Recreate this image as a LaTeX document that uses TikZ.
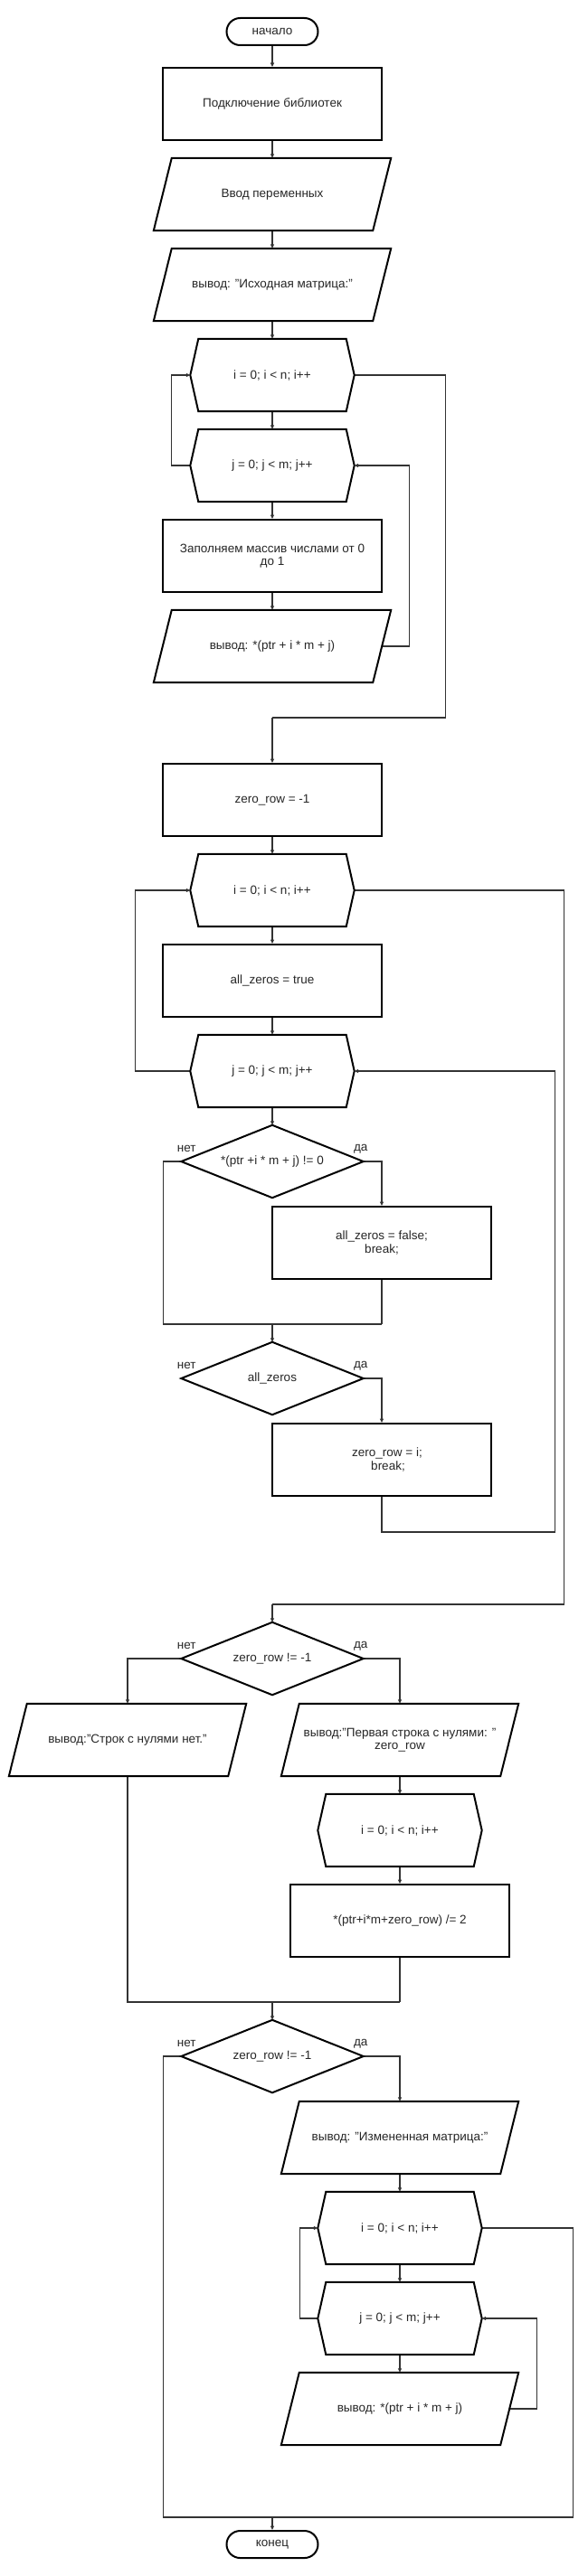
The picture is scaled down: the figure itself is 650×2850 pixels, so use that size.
\documentclass[tikz,border=0pt]{standalone}
\usepackage{fontspec}
\setmainfont{Liberation Sans}
\usetikzlibrary{arrows.meta,calc}

\tikzset{
  every node/.style={font=\fontsize{13.5pt}{14.5pt}\selectfont, text=black!85, inner sep=0pt, align=center},
  blk/.style={rectangle, draw=black, line width=2pt, minimum width=242pt, minimum height=80pt},
  ioshape/.style={rectangle, minimum width=242pt, minimum height=80pt},
  hexa/.style={rectangle, minimum width=181pt, minimum height=80pt},
  dia/.style={rectangle, minimum width=201pt, minimum height=80pt},
  term/.style={rectangle, rounded corners=15pt, draw=black, line width=2pt, minimum width=101pt, minimum height=30pt},
  outl/.style={draw=black, line width=2pt, line join=miter},
  conn/.style={draw=black!80, line width=1.3pt, -{Triangle[length=4.5pt,width=4pt]}},
  plain/.style={draw=black!80, line width=1.3pt},
}

\newcommand\paraout[1]{\draw[outl] ($(#1.north west)+(10,0)$) -- ($(#1.north east)+(10,0)$) -- ($(#1.south east)+(-10,0)$) -- ($(#1.south west)+(-10,0)$) -- cycle;}
\newcommand\hexout[1]{\draw[outl] (#1.west) -- ($(#1.north west)+(9,0)$) -- ($(#1.north east)+(-9,0)$) -- (#1.east) -- ($(#1.south east)+(-9,0)$) -- ($(#1.south west)+(9,0)$) -- cycle;}
\newcommand\diaout[1]{\draw[outl] (#1.west) -- (#1.north) -- (#1.east) -- (#1.south) -- cycle;}

\begin{document}
\begin{tikzpicture}[x=1pt, y=-1pt]
\useasboundingbox (0,0) rectangle (650,2850);

% ---------- first part ----------
\node[term] (start) at (301,35) {начало};
\node[blk] (lib) at (301,115) {Подключение библиотек};
\node[ioshape] (vars) at (301,215) {Ввод переменных};
\node[ioshape] (out1) at (301,315) {вывод: "Исходная матрица:"};
\node[hexa] (fori1) at (301,415) {i = 0; i < n; i++};
\node[hexa] (forj1) at (301,515) {j = 0; j < m; j++};
\node[blk] (fill) at (301,615) {Заполняем массив числами от 0\\до 1};
\node[ioshape] (outp1) at (301,715) {вывод: *(ptr + i * m + j)};

% ---------- second part ----------
\node[blk] (zr) at (301,885) {zero\_row = -1};
\node[hexa] (fori2) at (301,985) {i = 0; i < n; i++};
\node[blk] (allz) at (301,1085) {all\_zeros = true};
\node[hexa] (forj2) at (301,1185) {j = 0; j < m; j++};
\node[dia] (d1) at (301,1285) {*(ptr +i * m + j) != 0};
\node[blk] (azf) at (422,1375) {all\_zeros = false;\\break;};
\node[dia] (d2) at (301,1525) {all\_zeros};
\node[blk] (zri) at (422,1615) {\hspace*{12pt}zero\_row = i;\\\hspace*{14pt}break;};

% ---------- third part ----------
\node[dia] (d3) at (301,1835) {zero\_row != -1};
\node[ioshape] (nozero) at (141,1925) {вывод:"Строк с нулями нет."};
\node[ioshape] (first) at (442,1925) {вывод:"Первая строка с нулями: "\\zero\_row};
\node[hexa] (fori3) at (442,2025) {i = 0; i < n; i++};
\node[blk] (div) at (442,2125) {*(ptr+i*m+zero\_row) /= 2};

% ---------- fourth part ----------
\node[dia] (d4) at (301,2275) {zero\_row != -1};
\node[ioshape] (out2) at (442,2365) {вывод: "Измененная матрица:"};
\node[hexa] (fori4) at (442,2465) {i = 0; i < n; i++};
\node[hexa] (forj4) at (442,2565) {j = 0; j < m; j++};
\node[ioshape] (outp4) at (442,2665) {вывод: *(ptr + i * m + j)};
\node[term] (end) at (301,2815) {конец};

% labels
\node (n1) at ($(d1.west)+(6,-14)$) {нет};
\node (y1) at ($(d1.east)+(-3,-14)$) {да};
\node (n2) at ($(d2.west)+(6,-14)$) {нет};
\node (y2) at ($(d2.east)+(-3,-14)$) {да};
\node (n3) at ($(d3.west)+(6,-14)$) {нет};
\node (y3) at ($(d3.east)+(-3,-14)$) {да};
\node (n4) at ($(d4.west)+(6,-14)$) {нет};
\node (y4) at ($(d4.east)+(-3,-14)$) {да};

% coordinates for merges
\coordinate (m1) at (301,794);
\coordinate (m2) at (301,1465);
\coordinate (m3) at (301,1775);
\coordinate (m4) at (301,2215);
\coordinate (m5) at (301,2785);

% ---------- connectors ----------
\draw[conn] (start) -- (lib);
\draw[conn] (lib) -- (vars);
\draw[conn] (vars) -- (out1);
\draw[conn] (out1) -- (fori1);
\draw[conn] (fori1) -- (forj1);
\draw[conn] (forj1) -- (fill);
\draw[conn] (fill) -- (outp1);
\draw[conn] (outp1.east) -- ++(30,0) |- (forj1.east);
\draw[conn] (forj1.west) -- ++(-21,0) |- (fori1.west);
\draw[plain] (fori1.east) -- ++(101,0) |- (m1);
\draw[conn] (m1) -- (zr);

\draw[conn] (zr) -- (fori2);
\draw[conn] (fori2) -- (allz);
\draw[conn] (allz) -- (forj2);
\draw[conn] (forj2) -- (d1);
\draw[conn] (d1.east) -| (azf.north);
\draw[plain] (d1.west) -- ++(-20,0) |- (azf.south |- m2);
\draw[plain] (azf.south) -- (azf.south |- m2);
\draw[conn] (m2) -- (d2);
\draw[conn] (d2.east) -| (zri.north);
\draw[conn] (zri.south) -- ++(0,39) -| ($(forj2.east)+(222,0)$) -- (forj2.east);
\draw[conn] (forj2.west) -- ++(-61,0) |- (fori2.west);
\draw[plain] (fori2.east) -- ++(232,0) |- (m3);
\draw[conn] (m3) -- (d3);

\draw[conn] (d3.west) -| (nozero.north);
\draw[conn] (d3.east) -| (first.north);
\draw[conn] (first) -- (fori3);
\draw[conn] (fori3) -- (div);
\draw[plain] (nozero.south) |- (div.south |- m4);
\draw[plain] (div.south) -- (div.south |- m4);
\draw[conn] (m4) -- (d4);

\draw[conn] (d4.east) -| (out2.north);
\draw[conn] (out2) -- (fori4);
\draw[conn] (fori4) -- (forj4);
\draw[conn] (forj4) -- (outp4);
\draw[conn] (outp4.east) -- ++(30,0) |- (forj4.east);
\draw[conn] (forj4.west) -- ++(-20,0) |- (fori4.west);
\draw[plain] (d4.west) -- ++(-20,0) |- ($(fori4.east |- m5)+(101,0)$) -- ($(fori4.east)+(101,0)$) -- (fori4.east);
\draw[conn] (m5) -- (end);

% ---------- outlines ----------
\paraout{vars}
\paraout{out1}
\hexout{fori1}
\hexout{forj1}
\paraout{outp1}
\hexout{fori2}
\hexout{forj2}
\diaout{d1}
\diaout{d2}
\diaout{d3}
\paraout{nozero}
\paraout{first}
\hexout{fori3}
\diaout{d4}
\paraout{out2}
\hexout{fori4}
\hexout{forj4}
\paraout{outp4}
\end{tikzpicture}
\end{document}
